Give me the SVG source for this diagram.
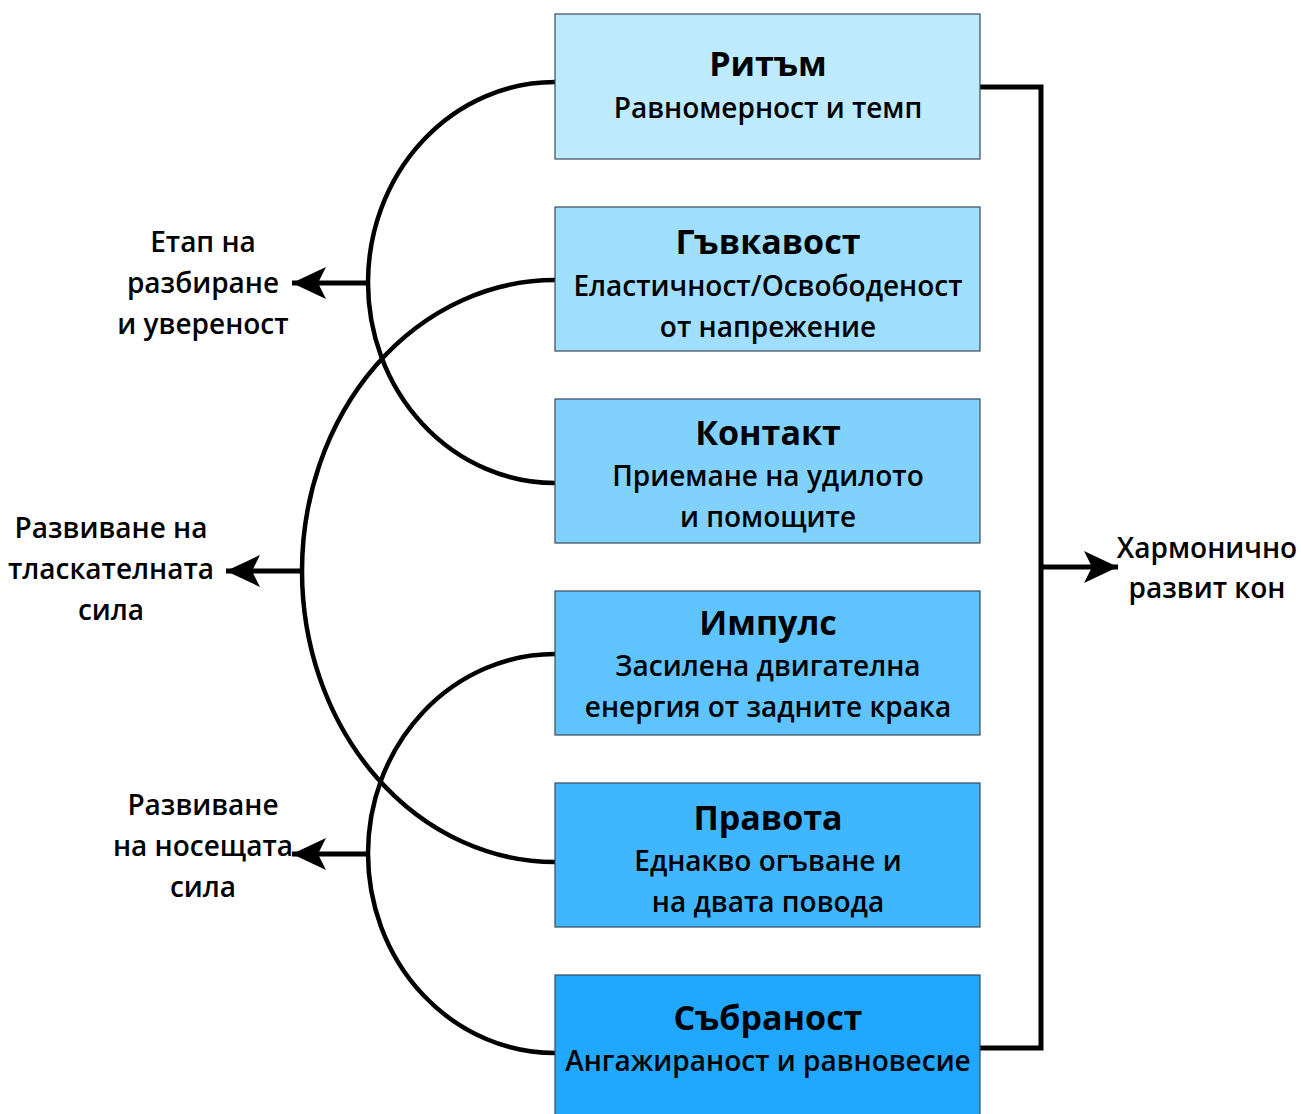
<svg xmlns="http://www.w3.org/2000/svg" width="1301" height="1114" viewBox="0 0 1301 1114">
<defs>
<style>
.box{stroke:#3a4a5a;stroke-width:1.2}
.t{font-family:"Open Sans","Noto Sans",sans-serif;font-weight:700;font-size:34px;text-anchor:middle;fill:#000}
.s{font-family:"Open Sans","Noto Sans",sans-serif;font-weight:600;font-size:28px;text-anchor:middle;fill:#000}
.l{font-family:"Open Sans","Noto Sans",sans-serif;font-weight:600;font-size:28px;text-anchor:middle;fill:#000}
.c{fill:none;stroke:#000;stroke-width:4.5}
.a{fill:none;stroke:#000;stroke-width:5}
</style>
<marker id="ah" markerUnits="userSpaceOnUse" markerWidth="40" markerHeight="40" viewBox="0 0 40 40" refX="34" refY="20" orient="auto">
<path d="M34,20 L0,4 L8,20 L0,36 Z" fill="#000"/>
</marker>
</defs>
<rect width="1301" height="1114" fill="#fff"/>
<g id="connectors">
<path class="c" d="M555,82 A187,200.5 0 0 0 555,483"/>
<path class="c" d="M555,280 A253,291 0 0 0 555,862"/>
<path class="c" d="M555,654 A187,199.5 0 0 0 555,1053"/>
<path class="a" d="M368,283 L292,283" marker-end="url(#ah)"/>
<path class="a" d="M302,571 L226,571" marker-end="url(#ah)"/>
<path class="a" d="M368,854 L292,854" marker-end="url(#ah)"/>
<path class="a" d="M980,87 L1041,87 L1041,1048 L980,1048"/>
<path class="a" d="M1041,567 L1118,567" marker-end="url(#ah)"/>
</g>
<g id="node-ritam">
<rect class="box" x="555" y="14" width="425" height="145" fill="#BEEAFD"/>
<text class="t" x="768" y="76">Ритъм</text>
<text class="s" x="768" y="118">Равномерност и темп</text>
</g>
<g id="node-gavkavost">
<rect class="box" x="555" y="207" width="425" height="144" fill="#9FDEFD"/>
<text class="t" x="768" y="254">Гъвкавост</text>
<text class="s" x="768" y="296">Еластичност/Освободеност</text>
<text class="s" x="768" y="337">от напрежение</text>
</g>
<g id="node-kontakt">
<rect class="box" x="555" y="399" width="425" height="144" fill="#80D2FD"/>
<text class="t" x="768" y="445">Контакт</text>
<text class="s" x="768" y="486">Приемане на удилото</text>
<text class="s" x="768" y="527">и помощите</text>
</g>
<g id="node-impuls">
<rect class="box" x="555" y="591" width="425" height="144" fill="#5FC4FD"/>
<text class="t" x="768" y="635">Импулс</text>
<text class="s" x="768" y="676">Засилена двигателна</text>
<text class="s" x="768" y="717">енергия от задните крака</text>
</g>
<g id="node-pravota">
<rect class="box" x="555" y="783" width="425" height="144" fill="#40B6FE"/>
<text class="t" x="768" y="830">Правота</text>
<text class="s" x="768" y="871">Еднакво огъване и</text>
<text class="s" x="768" y="912">на двата повода</text>
</g>
<g id="node-sabranost">
<rect class="box" x="555" y="975" width="425" height="145" fill="#20A7FE"/>
<text class="t" x="768" y="1030">Събраност</text>
<text class="s" x="768" y="1071">Ангажираност и равновесие</text>
</g>
<g id="label-etap">
<text class="l" x="203" y="252">Етап на</text>
<text class="l" x="203" y="293">разбиране</text>
<text class="l" x="203" y="334">и увереност</text>
</g>
<g id="label-tlaskatelna">
<text class="l" x="111" y="538">Развиване на</text>
<text class="l" x="111" y="579">тласкателната</text>
<text class="l" x="111" y="620">сила</text>
</g>
<g id="label-nosesta">
<text class="l" x="203" y="815">Развиване</text>
<text class="l" x="203" y="856">на носещата</text>
<text class="l" x="203" y="897">сила</text>
</g>
<g id="label-harmonichno">
<text class="l" x="1207" y="558">Хармонично</text>
<text class="l" x="1207" y="598">развит кон</text>
</g>
</svg>
